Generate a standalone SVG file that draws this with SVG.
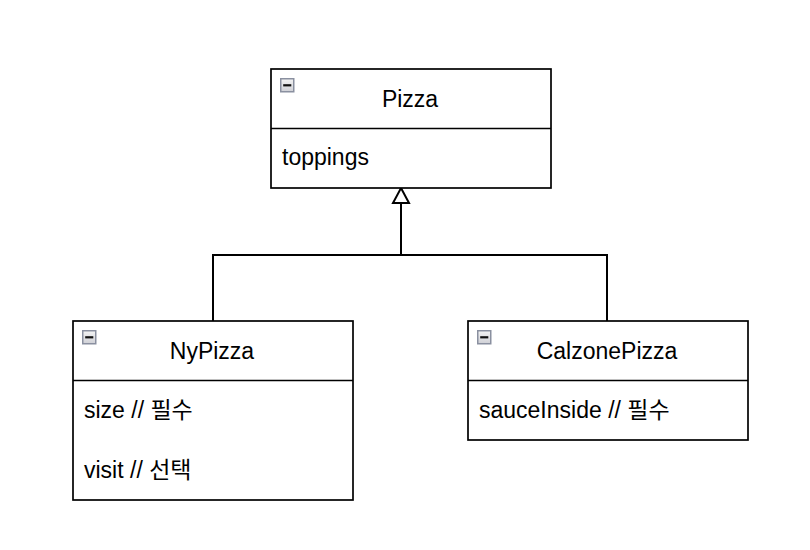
<svg xmlns="http://www.w3.org/2000/svg" width="810" height="550" viewBox="0 0 810 550">
  <defs>
    <linearGradient id="icoGrad" x1="0" y1="0" x2="0" y2="1">
      <stop offset="0" stop-color="#f4f4f4"/>
      <stop offset="1" stop-color="#cfd0d6"/>
    </linearGradient>
    <g id="collapse">
      <rect x="0.75" y="0.75" width="13" height="13" fill="url(#icoGrad)" stroke="#8a90a0" stroke-width="1.5"/>
      <rect x="3.2" y="6.2" width="8.1" height="2.2" fill="#111"/>
    </g>
  </defs>
  <style>
    .box { fill: #ffffff; stroke: #000000; stroke-width: 1.7; }
    .div { stroke: #000000; stroke-width: 1.7; fill: none; }
    .title { font-family: "Liberation Sans", Arial, "Noto Sans CJK KR", sans-serif; font-size: 23px; fill: #000; text-anchor: middle; }
    .attr { font-family: "Liberation Sans", Arial, "Noto Sans CJK KR", sans-serif; font-size: 23px; fill: #000; }
    .conn { stroke: #000000; stroke-width: 2; fill: none; }
  </style>
  <rect width="810" height="550" fill="#ffffff"/>

  <g id="connectors">
    <polyline class="conn" points="213,321 213,255 607,255 607,321"/>
    <line class="conn" x1="401" y1="255" x2="401" y2="203"/>
    <polygon points="401,188 409,203 393,203" fill="#ffffff" stroke="#000000" stroke-width="2" stroke-linejoin="miter"/>
  </g>

  <g id="Pizza">
    <rect class="box" x="271" y="69" width="280" height="119"/>
    <line class="div" x1="271" y1="128.5" x2="551" y2="128.5"/>
    <use href="#collapse" x="280" y="78"/>
    <text class="title" x="410" y="107">Pizza</text>
    <text class="attr" x="282" y="165">toppings</text>
  </g>

  <g id="NyPizza">
    <rect class="box" x="73" y="321" width="280" height="179"/>
    <line class="div" x1="73" y1="380.5" x2="353" y2="380.5"/>
    <use href="#collapse" x="82" y="330"/>
    <text class="title" x="212" y="359">NyPizza</text>
    <text class="attr" x="84" y="418">size // 필수</text>
    <text class="attr" x="84" y="478">visit // 선택</text>
  </g>

  <g id="CalzonePizza">
    <rect class="box" x="468" y="321" width="280" height="119"/>
    <line class="div" x1="468" y1="380.5" x2="748" y2="380.5"/>
    <use href="#collapse" x="477" y="330"/>
    <text class="title" x="607" y="359">CalzonePizza</text>
    <text class="attr" x="479" y="418">sauceInside // 필수</text>
  </g>
</svg>
